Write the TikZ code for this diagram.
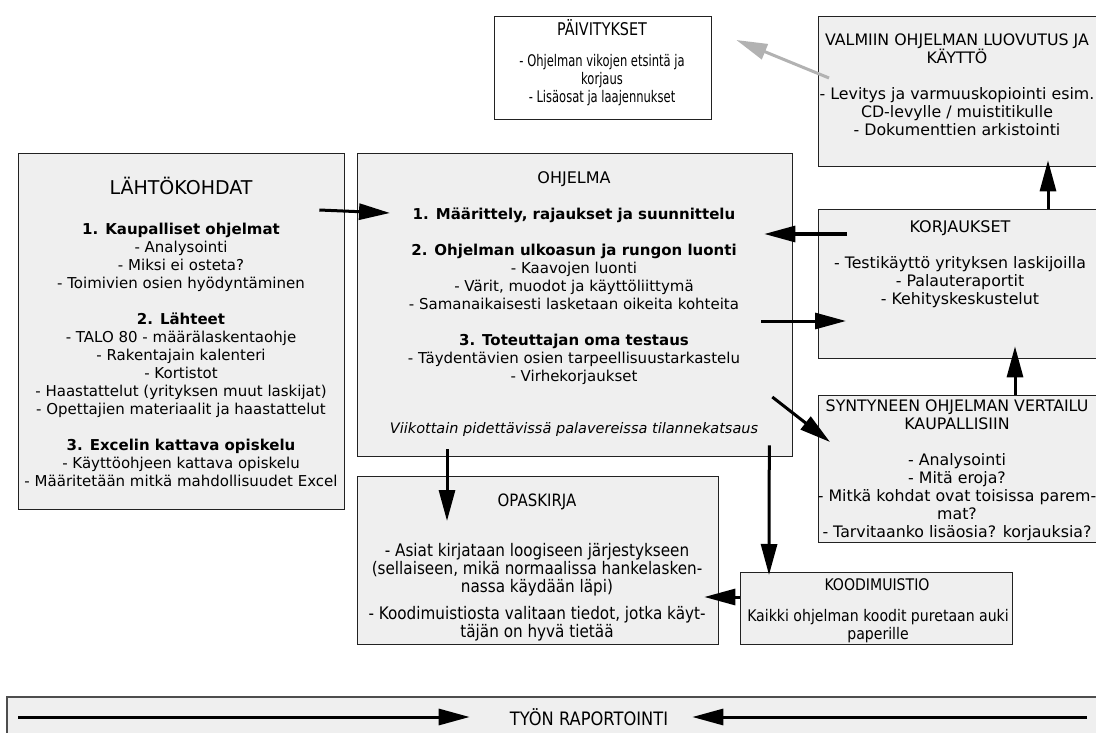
\documentclass[tikz,border=0pt]{standalone}
\usepackage{fontspec}
\setmainfont{DejaVu Sans}
\newfontfamily\narrowfont[FakeStretch=0.82]{DejaVu Sans}
\newfontfamily\slimfont[FakeStretch=0.72]{DejaVu Sans}
\newfontfamily\tallfont[FakeStretch=0.88]{DejaVu Sans}
\usetikzlibrary{arrows.meta,calc}
\definecolor{boxgray}{HTML}{EFEFEF}
\definecolor{framegray}{HTML}{222222}
\definecolor{arrowgray}{HTML}{B2B2B2}
\tikzset{
  box/.style={draw=framegray,line width=1.3pt,fill=boxgray,anchor=north west,inner sep=0pt},
  body/.style={align=center,inner sep=0pt,font=\fontsize{15}{18}\selectfont},
  sidebody/.style={align=center,inner sep=0pt,font=\fontsize{15.8}{18}\selectfont},
  tallbody/.style={align=center,inner sep=0pt,font=\tallfont\fontsize{#1}{18}\selectfont},
  link/.style={line width=3pt,-{Triangle[length=31pt,width=16pt]}},
}
\begin{document}
\begin{tikzpicture}[x=1pt,y=-1pt]
\useasboundingbox (0,0) rectangle (1096,733);

% boxes
\node[box,minimum width=326pt,minimum height=356pt] (lahto) at (18,153) {};
\node[box,minimum width=435pt,minimum height=303pt] (ohjelma) at (357,153) {};
\node[box,fill=white,minimum width=217pt,minimum height=103pt] (paiv) at (494,16) {};
\node[box,minimum width=290pt,minimum height=150pt] (valmis) at (818,16) {};
\node[box,minimum width=290pt,minimum height=149pt] (korj) at (818,209) {};
\node[box,minimum width=290pt,minimum height=147pt] (vert) at (818,395) {};
\node[box,minimum width=361pt,minimum height=168pt] (opas) at (357,476) {};
\node[box,minimum width=272pt,minimum height=72pt] (koodi) at (740,572) {};
\node[box,draw=none,minimum width=1100pt,minimum height=45pt] (rap) at (7,697) {};
\draw[framegray!80,line width=1.3pt] (rap.north east) -- (rap.north west) -- (rap.south west);

% texts
\node[font=\fontsize{19}{22}\selectfont] (lahtotitle) at (181,186) {LÄHTÖKOHDAT};
\node[body] (lahtotxt) at (181,355) {\textbf{1. Kaupalliset ohjelmat}\\
  - Analysointi\\ - Miksi ei osteta?\\ - Toimivien osien hyödyntäminen\\[18pt]
  \textbf{2. Lähteet}\\ - TALO 80 - määrälaskentaohje\\ - Rakentajain kalenteri\\
  - Kortistot\\ - Haastattelut (yrityksen muut laskijat)\\
  - Opettajien materiaalit ja haastattelut\\[18pt]
  \textbf{3. Excelin kattava opiskelu}\\ - Käyttöohjeen kattava opiskelu\\
  - Määritetään mitkä mahdollisuudet Excel};

\node[font=\fontsize{16}{18}\selectfont] (ohjtitle) at (574,179) {OHJELMA};
\node[body] (ohjtxt) at (574,296) {\textbf{1. Määrittely, rajaukset ja suunnittelu}\\[18pt]
  \textbf{2. Ohjelman ulkoasun ja rungon luonti}\\ - Kaavojen luonti\\
  - Värit, muodot ja käyttöliittymä\\ - Samanaikaisesti lasketaan oikeita kohteita\\[18pt]
  \textbf{3. Toteuttajan oma testaus}\\ - Täydentävien osien tarpeellisuustarkastelu\\
  - Virhekorjaukset};
\node[body,font=\fontsize{14.5}{18}\selectfont\itshape] (ohjnote) at (574,429)
  {Viikottain pidettävissä palavereissa tilannekatsaus};

\node[font=\narrowfont\fontsize{17.5}{18}\selectfont] (paivtitle) at (602,28) {PÄIVITYKSET};
\node[align=center,font=\slimfont\fontsize{16}{18}\selectfont] (paivtxt) at (602,80)
  {- Ohjelman vikojen etsintä ja\\ korjaus\\ - Lisäosat ja laajennukset};

\node[sidebody] (valmtxt) at (957,85) {VALMIIN OHJELMAN LUOVUTUS JA\\ KÄYTTÖ\\[18pt]
  - Levitys ja varmuuskopiointi esim.\\ CD-levylle / muistitikulle\\
  - Dokumenttien arkistointi};

\node[font=\fontsize{16}{18}\selectfont] (korjtitle) at (960,228) {KORJAUKSET};
\node[sidebody] (korjtxt) at (960,282) {- Testikäyttö yrityksen laskijoilla\\
  - Palauteraportit\\ - Kehityskeskustelut};

\node[sidebody] (verttxt) at (957,470) {SYNTYNEEN OHJELMAN VERTAILU\\ KAUPALLISIIN\\[18pt]
  - Analysointi\\ - Mitä eroja?\\ - Mitkä kohdat ovat toisissa parem-\\ mat?\\
  - Tarvitaanko lisäosia? korjauksia?};

\node[tallbody=17] (opastitle) at (537,502) {OPASKIRJA};
\node[tallbody=17.3] (opastxt) at (537,592) {- Asiat kirjataan loogiseen järjestykseen\\
  (sellaiseen, mikä normaalissa hankelasken-\\ nassa käydään läpi)\\[9pt]
  - Koodimuistiosta valitaan tiedot, jotka käyt-\\ täjän on hyvä tietää};

\node[tallbody=16] (koodititle) at (877,585) {KOODIMUISTIO};
\node[tallbody=16] (koodtxt) at (878,626) {Kaikki ohjelman koodit puretaan auki\\ paperille};

\node[tallbody=18.5] (raptxt) at (589,717) {TYÖN RAPORTOINTI};

% connector ends
\coordinate (a1) at ($(lahto.north east)+(-26,57)$);
\coordinate (a2) at ($(ohjelma.north west)+(33,60)$);
\coordinate (b1) at ($(korj.north west)+(29,25)$);
\coordinate (b2) at ($(ohjelma.north east)+(-29,81)$);
\coordinate (c1) at ($(ohjelma.north east)+(-32,168)$);
\coordinate (c2) at ($(korj.north west)+(28,112)$);
\coordinate (d1) at ($(ohjelma.north east)+(-21,244)$);
\coordinate (d2) at ($(vert.north west)+(12,47)$);
\coordinate (e1) at ($(vert.north west)+(197,0)$);
\coordinate (e2) at ($(korj.south west)+(197,-13)$);
\coordinate (f1) at ($(korj.north west)+(230,0)$);
\coordinate (f2) at ($(valmis.south west)+(230,-7)$);
\coordinate (g1) at ($(valmis.north west)+(11,62)$);
\coordinate (g2) at ($(paiv.north east)+(24,24)$);
\coordinate (h1) at ($(ohjelma.south west)+(90,-8)$);
\coordinate (h2) at ($(opas.north west)+(90,45)$);
\coordinate (i1) at ($(ohjelma.south east)+(-24,-12)$);
\coordinate (i2) at ($(koodi.north west)+(29,3)$);
\coordinate (j1) at ($(koodi.north west)+(0,25)$);
\coordinate (j2) at ($(opas.north east)+(-15,121)$);
\coordinate (k1) at ($(rap.north west)+(11,20)$);
\coordinate (k2) at ($(raptxt.west)+(-40,0)$);
\coordinate (l1) at ($(rap.north west)+(1080,20)$);
\coordinate (l2) at ($(raptxt.east)+(24,0)$);

% connectors
\draw[link] (a1) -- (a2);
\draw[link] (b1) -- (b2);
\draw[link] (c1) -- (c2);
\draw[link] (d1) -- (d2);
\draw[link] (e1) -- (e2);
\draw[link] (f1) -- (f2);
\draw[link,arrowgray] (g1) -- (g2);
\draw[link] (h1) -- (h2);
\draw[link] (i1) -- (i2);
\draw[link] (j1) -- (j2);
\draw[link] (k1) -- (k2);
\draw[link] (l1) -- (l2);
\end{tikzpicture}
\end{document}
